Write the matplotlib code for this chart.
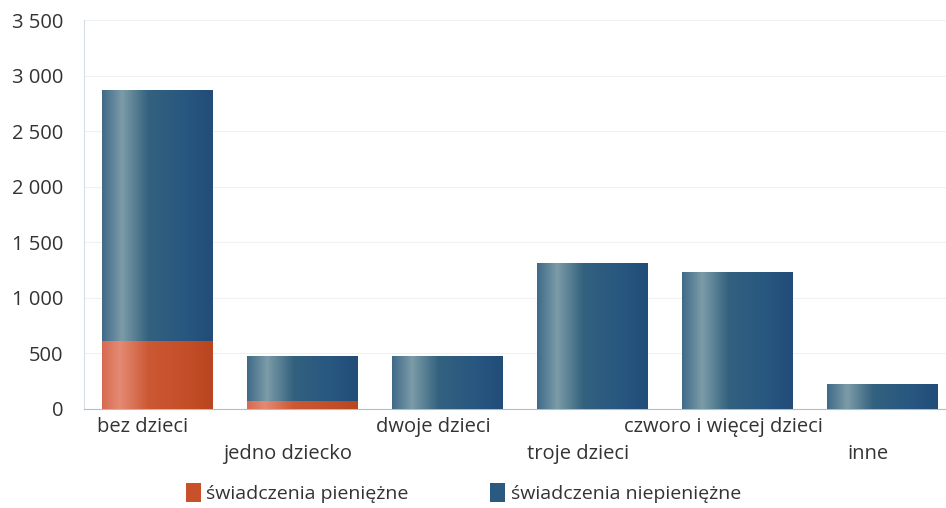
import numpy as np
import matplotlib.pyplot as plt
from matplotlib.colors import LinearSegmentedColormap
from matplotlib.ticker import FuncFormatter
import matplotlib.transforms as mtransforms

plt.rcParams['font.family'] = ['Open Sans', 'DejaVu Sans']

# Data
categories = ["bez dzieci", "jedno dziecko", "dwoje dzieci", "troje dzieci",
              "czworo i więcej dzieci", "inne"]
pieniezne = [610, 75, 0, 0, 0, 0]
niepieniezne = [2260, 405, 480, 1310, 1235, 225]
series_names = ["świadczenia pieniężne", "świadczenia niepieniężne"]

# cylinder-like shading (left edge -> highlight -> dark right)
blue_cmap = LinearSegmentedColormap.from_list(
    "blue_cyl", [(0.0, "#3f6a88"), (0.18, "#7c9ca8"), (0.42, "#33617f"),
                 (0.75, "#285780"), (1.0, "#214d78")])
red_cmap = LinearSegmentedColormap.from_list(
    "red_cyl", [(0.0, "#d66a50"), (0.16, "#e58a74"), (0.42, "#cc5834"),
                (0.75, "#c44e28"), (1.0, "#b94620")])
grad = np.linspace(0, 1, 256).reshape(1, -1)

fig = plt.figure(figsize=(9.46, 5.08), dpi=100)
ax = fig.add_axes([0.0893, 0.195, 0.9107, 0.7656])

x = np.arange(len(categories))
w = 0.76
bars_r = ax.bar(x, pieniezne, w, color="#c8502a", label=series_names[0], zorder=2)
bars_b = ax.bar(x, niepieniezne, w, bottom=pieniezne, color="#2a5a80",
                label=series_names[1], zorder=2)

for bars, cmap in ((bars_r, red_cmap), (bars_b, blue_cmap)):
    for p in bars:
        if p.get_height() <= 0:
            continue
        x0, y0 = p.get_x(), p.get_y()
        im = ax.imshow(grad, cmap=cmap, aspect="auto", zorder=3,
                       extent=(x0, x0 + p.get_width(), y0, y0 + p.get_height()),
                       interpolation="bilinear")
        im.set_clip_path(p)

ax.set_xlim(-0.5, 5.44)
ax.set_ylim(0, 3500)
ax.set_yticks(np.arange(0, 3501, 500))
ax.yaxis.set_major_formatter(FuncFormatter(lambda v, _: f"{int(v):,}".replace(",", " ")))
ax.tick_params(axis="y", length=0, pad=15, labelsize=14.5, labelcolor="#333333")
ax.grid(axis="y", color="#eef2f4", linewidth=0.8, zorder=0)
for s in ("top", "right"):
    ax.spines[s].set_visible(False)
ax.spines["left"].set_color("#d4dee6")
ax.spines["bottom"].set_color("#aebfcc")

# staggered category labels
ax.set_xticks([])
shift = mtransforms.offset_copy(ax.get_xaxis_transform(), fig=fig, x=-14, y=0, units="dots")
for i, lab in enumerate(categories):
    ax.text(x[i], -0.02 if i % 2 == 0 else -0.09, lab, transform=shift,
            ha="center", va="top", fontsize=14.5, color="#333333")

leg = fig.legend(handles=[bars_r, bars_b], labels=series_names, loc="lower center",
                 bbox_to_anchor=(0.49, -0.025), ncol=2, frameon=False, fontsize=14,
                 handlelength=0.75, handleheight=1.1, columnspacing=4.2, handletextpad=0.3)
for t in leg.get_texts():
    t.set_color("#333333")

fig.savefig("out.png", dpi=100)
